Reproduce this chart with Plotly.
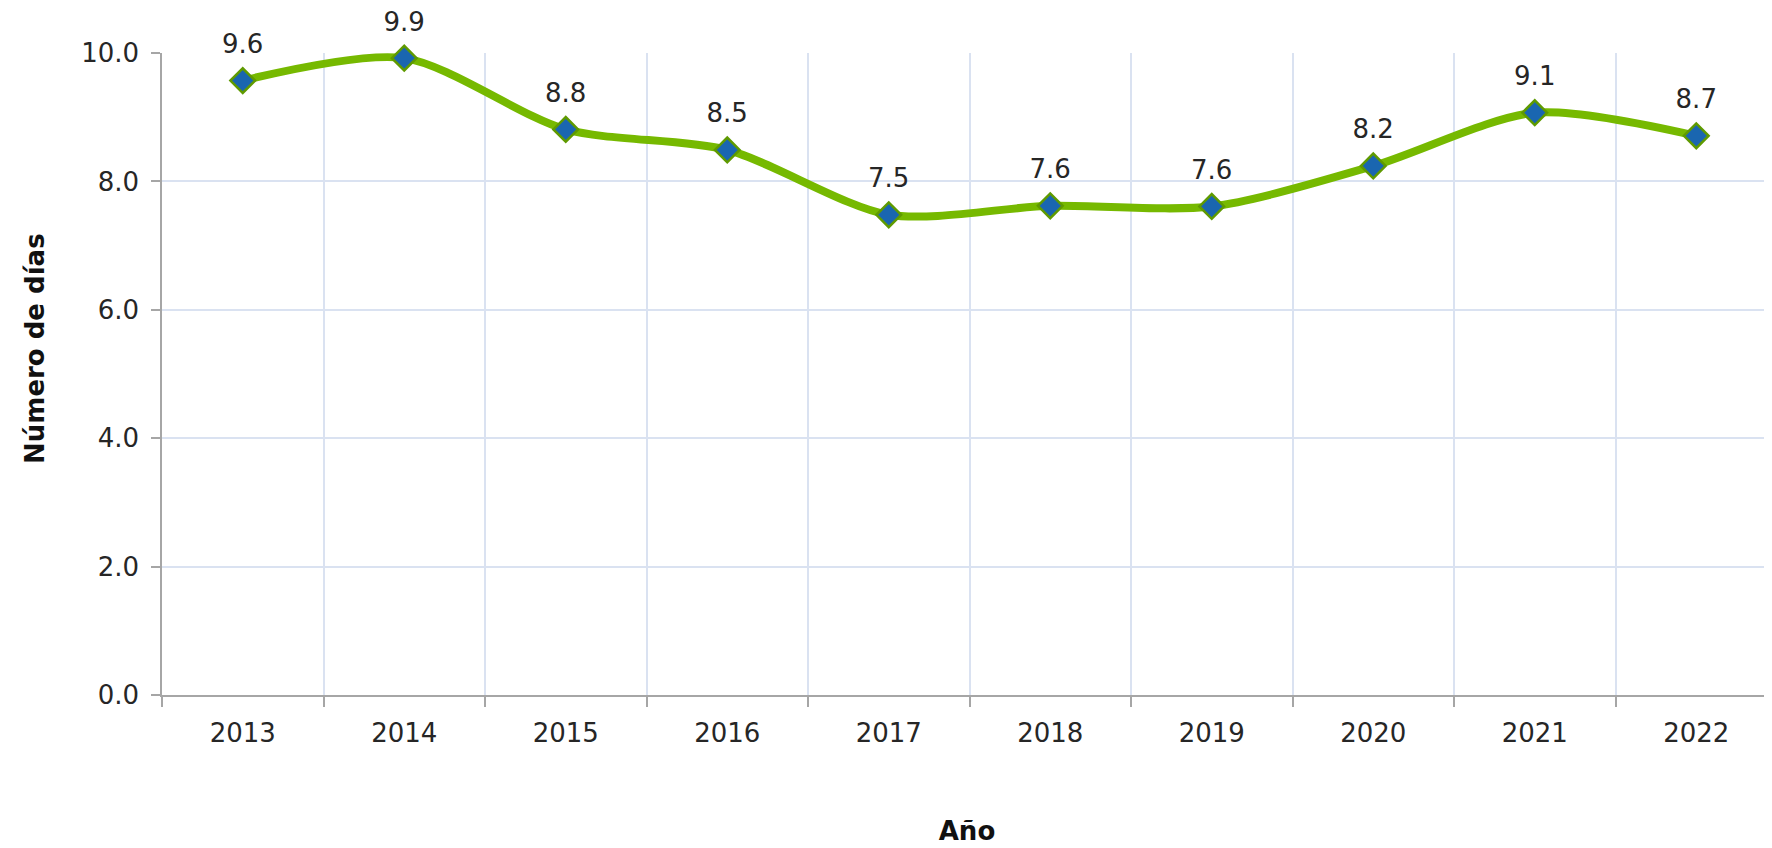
import plotly.graph_objects as go

years = ["2013", "2014", "2015", "2016", "2017", "2018", "2019", "2020", "2021", "2022"]
dias = [9.57, 9.92, 8.81, 8.49, 7.48, 7.62, 7.61, 8.24, 9.07, 8.71]
y_ticks = [0, 2, 4, 6, 8, 10]
y_tick_labels = ["0.0", "2.0", "4.0", "6.0", "8.0", "10.0"]

FONT = "DejaVu Sans"
TXT = "#262626"
GRID = "#dae2f1"
AXIS = "#a6a6a6"

fig = go.Figure()
fig.add_trace(go.Scatter(
    x=years, y=dias,
    mode="lines+markers",
    line=dict(color="#76b900", width=8, shape="spline", smoothing=0.8),
    marker=dict(symbol="diamond", size=19, color="#1a66b0",
                line=dict(color="#5f9a00", width=2.5)),
    cliponaxis=False,
    hoverinfo="skip",
))
# value labels
fig.add_trace(go.Scatter(
    x=years, y=dias,
    mode="markers+text",
    marker=dict(size=32, opacity=0),
    text=[f"{v:.1f}" for v in dias],
    textposition="top center",
    textfont=dict(family=FONT, size=26, color=TXT),
    cliponaxis=False,
    hoverinfo="skip",
))

fig.update_layout(
    width=1772, height=848,
    paper_bgcolor="white", plot_bgcolor="white",
    margin=dict(l=154, r=8, t=45, b=161),
    showlegend=False,
    font=dict(family=FONT, color=TXT),
    annotations=[dict(
        text="<b>Número de días</b>", textangle=-90,
        xref="paper", yref="paper", x=-0.0789, y=0.5405,
        xanchor="center", yanchor="middle", showarrow=False,
        font=dict(family=FONT, size=26, color="#111111"),
    )],
)
fig.update_xaxes(
    type="category",
    range=[-0.5, 9.469],
    tickson="boundaries",
    ticks="outside", ticklen=10, tickwidth=1.5, tickcolor=AXIS,
    showline=True, linecolor=AXIS, linewidth=1.5,
    showgrid=True, gridcolor=GRID, gridwidth=1.5,
    tickfont=dict(family=FONT, size=26, color=TXT),
    ticklabelstandoff=14,
    title=dict(text="<b>Año</b>", font=dict(family=FONT, size=26, color="#111111"), standoff=75),
    zeroline=False,
)
fig.update_yaxes(
    range=[0, 10],
    tickvals=y_ticks, ticktext=y_tick_labels,
    ticks="outside", ticklen=9, tickwidth=1.5, tickcolor=AXIS,
    showline=True, linecolor=AXIS, linewidth=1.5,
    showgrid=True, gridcolor=GRID, gridwidth=1.5,
    tickfont=dict(family=FONT, size=26, color=TXT),
    ticklabelstandoff=7,
    zeroline=False,
)

fig.write_html("out.html")
